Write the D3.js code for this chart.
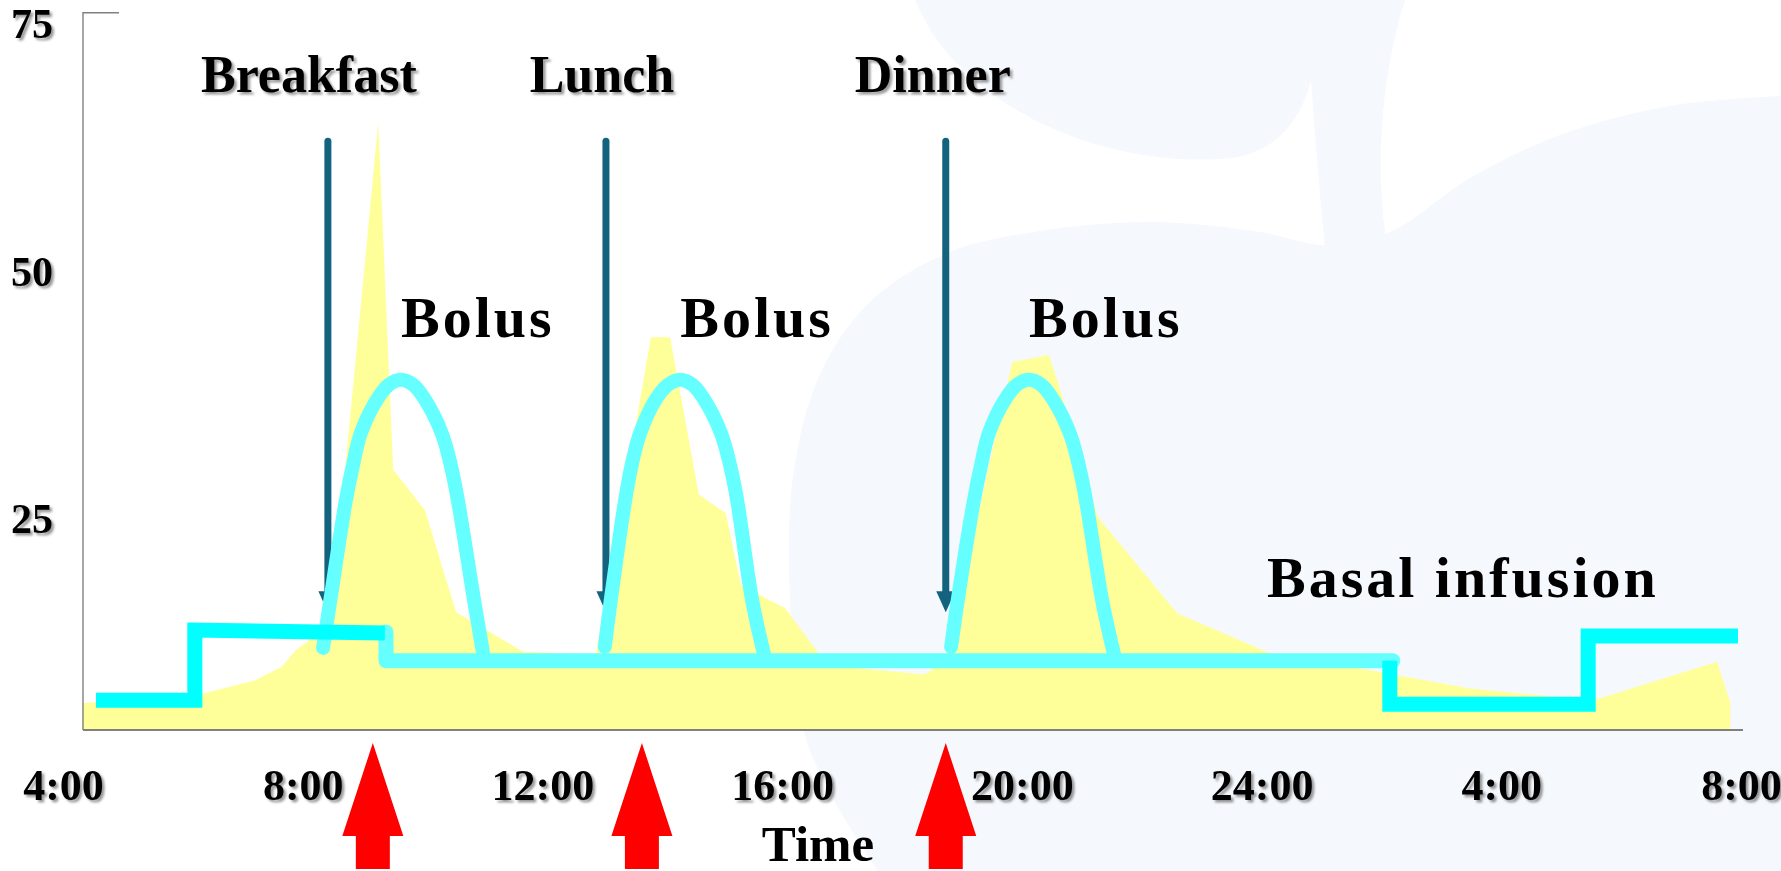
<!DOCTYPE html>
<html>
<head>
<meta charset="utf-8">
<script src="https://cdn.jsdelivr.net/npm/d3@7"></script>
<style>
  html, body { margin: 0; padding: 0; background: #ffffff; }
  svg { display: block; }
  text { font-family: "Liberation Serif", "Times New Roman", serif; font-weight: bold; fill: #000; }
</style>
</head>
<body>
<svg id="chart" width="1781" height="871"></svg>
<script>
// ---------------- data ----------------
// time axis (hours from midnight of day 1)
const timeTicks = [4, 8, 12, 16, 20, 24, 28, 32];
const timeTickLabels = ["4:00", "8:00", "12:00", "16:00", "20:00", "24:00", "4:00", "8:00"];
const levelTicks = [25, 50, 75];

// glucose appearance after meals (yellow area): [hour, level]
const absorption = [
  [4.32, 5.2], [6.22, 6.0], [7.20, 7.5], [7.65, 8.9], [7.89, 10.6], [8.46, 13.1],
  [9.26, 63.9], [9.51, 28.8], [10.04, 24.7], [10.56, 14.4], [11.68, 10.4],
  [12.89, 10.1], [13.81, 42.2], [14.13, 42.2], [14.61, 26.3], [15.06, 24.4],
  [15.31, 17.2], [15.70, 15.9], [16.05, 14.8], [16.60, 10.3], [16.80, 9.0],
  [18.38, 8.1], [18.55, 8.8], [18.72, 9.6], [19.84, 39.7], [20.45, 40.4],
  [20.60, 37.7], [21.27, 24.0], [22.59, 14.3], [24.12, 10.3], [25.58, 8.8],
  [27.48, 6.7], [29.00, 5.8], [29.65, 5.7], [31.60, 9.4], [31.82, 5.3]
];

// basal insulin infusion rate, stepwise
const basalMorning = [[4.55, 5.5], [6.20, 5.5], [6.20, 12.6], [9.37, 12.3]];
const basalDay     = [[9.39, 12.4], [9.39, 9.5], [26.19, 9.5]];
const basalNight   = [[26.14, 9.5], [26.14, 5.1], [29.45, 5.1], [29.45, 12.0], [31.95, 12.0]];

// mealtime insulin boluses
const bolusBreakfast = [[8.34, 10.8], [8.46, 15.6], [8.72, 25.7], [8.84, 29.3], [8.97, 32.5], [9.24, 35.9],
                        [9.44, 37.4], [9.64, 37.9], [9.84, 37.4], [10.04, 35.9], [10.32, 32.5],
                        [10.47, 29.3], [10.59, 25.7], [10.86, 15.6], [11.02, 9.9]];
const bolusLunch     = [[13.04, 10.9], [13.14, 15.6], [13.38, 25.7], [13.49, 29.3], [13.63, 32.5], [13.89, 35.9],
                        [14.10, 37.4], [14.30, 37.9], [14.50, 37.4], [14.70, 35.9], [14.98, 32.5],
                        [15.13, 29.3], [15.25, 25.7], [15.50, 15.6], [15.70, 10.1]];
const bolusDinner    = [[18.82, 10.9], [18.93, 15.6], [19.20, 25.7], [19.32, 29.3], [19.45, 32.5], [19.72, 35.9],
                        [19.92, 37.4], [20.12, 37.9], [20.32, 37.4], [20.52, 35.9], [20.80, 32.5],
                        [20.95, 29.3], [21.07, 25.7], [21.34, 15.6], [21.54, 10.1]];

const meals = ["Breakfast", "Lunch", "Dinner"];
const mealTimes = [8.42, 13.06, 18.73];
const mealArrowTop = 62;
const mealArrowTip = 14.4;
const injectionTimes = [9.17, 13.66, 18.73];

// ---------------- layout ----------------
const plotLeft = 83, plotRight = 1743;
const baseLevel = 2.5;
const mealLabelShift = [-19, -4, -13];   // horizontal nudge of each meal caption

const x = d3.scaleLinear().domain([4, 32]).range([63, 1741]);
const y = d3.scaleLinear().domain([baseLevel, 75]).range([730, 12.7]);

const svg = d3.select("#chart");
const defs = svg.append("defs");
const shadow = defs.append("filter").attr("id", "txtShadow")
  .attr("x", "-20%").attr("y", "-20%").attr("width", "150%").attr("height", "170%");
shadow.append("feDropShadow").attr("dx", 2.5).attr("dy", 2.5)
  .attr("stdDeviation", 1.3).attr("flood-color", "#000").attr("flood-opacity", 0.4);

// faint apple watermark behind the chart
const wm = svg.append("g").attr("fill", "#F5F8FC");
const bodyPts = [[878, 871], [808, 745], [790, 600], [794, 470], [822, 370], [872, 300], [950, 252],
                 [1040, 231], [1150, 222], [1260, 232], [1325, 245], [1390, 232], [1470, 178],
                 [1560, 135], [1670, 106], [1781, 96]];
wm.append("path").attr("d", d3.line().curve(d3.curveCatmullRom)(bodyPts) + "L1781,871Z");
wm.append("path").attr("d", "M915,0 C960,110 1110,170 1230,158 C1295,150 1322,90 1318,0 Z");
wm.append("path").attr("d", "M1305,0 C1312,90 1318,180 1325,245 L1387,245 C1375,170 1380,80 1405,0 Z");

// yellow absorption area
svg.append("path")
  .datum(absorption)
  .attr("fill", "#FFFF99")
  .attr("d", d3.area().x(d => x(d[0])).y0(y(baseLevel)).y1(d => y(d[1])));

// axes frame
svg.append("path")
  .attr("d", `M${plotLeft + 36},${y(75)}H${plotLeft}V${y(baseLevel)}`)
  .attr("fill", "none").attr("stroke", "#808080").attr("stroke-width", 1.4);
svg.append("line")
  .attr("x1", plotLeft).attr("x2", plotRight).attr("y1", y(baseLevel)).attr("y2", y(baseLevel))
  .attr("stroke", "#808080").attr("stroke-width", 2);

// y axis labels
const yAxis = svg.append("g").attr("transform", `translate(${plotLeft},0)`)
  .call(d3.axisLeft(y).tickValues(levelTicks).tickSize(0));
yAxis.select(".domain").remove();
yAxis.selectAll("text")
  .attr("x", -30).attr("dy", 25)
  .style("font-size", "42px")
  .attr("font-family", null)
  .attr("filter", "url(#txtShadow)");

// x axis labels
const xAxis = svg.append("g").attr("transform", `translate(0,${y(baseLevel)})`)
  .call(d3.axisBottom(x).tickValues(timeTicks).tickFormat((d, i) => timeTickLabels[i]).tickSize(0));
xAxis.select(".domain").remove();
xAxis.selectAll("text")
  .attr("y", 70).attr("dy", 0)
  .style("font-size", "44px")
  .attr("font-family", null)
  .attr("filter", "url(#txtShadow)");

svg.append("text").attr("x", 818).attr("y", 861).attr("text-anchor", "middle")
  .style("font-size", "51px").text("Time");

// meal arrows
const teal = "#13637F";
const mealG = svg.append("g");
mealTimes.forEach((t, i) => {
  const cx = x(t), tip = y(mealArrowTip);
  mealG.append("line")
    .attr("x1", cx).attr("x2", cx).attr("y1", y(mealArrowTop)).attr("y2", tip - 18)
    .attr("stroke", teal).attr("stroke-width", 7).attr("stroke-linecap", "round");
  mealG.append("path")
    .attr("d", `M${cx - 9.5},${tip - 21}L${cx + 9.5},${tip - 21}L${cx},${tip}Z`)
    .attr("fill", teal);
  svg.append("text")
    .attr("x", cx + mealLabelShift[i]).attr("y", 92).attr("text-anchor", "middle")
    .style("font-size", "52px")
    .attr("filter", "url(#txtShadow)")
    .text(meals[i]);
});

const line = d3.line().x(d => x(d[0])).y(d => y(d[1]));
const smooth = d3.line().x(d => x(d[0])).y(d => y(d[1])).curve(d3.curveCatmullRom.alpha(0.5));

// boluses and daytime basal (light cyan)
[bolusBreakfast, bolusLunch, bolusDinner].forEach(b => {
  svg.append("path").datum(b)
    .attr("d", smooth)
    .attr("fill", "none").attr("stroke", "#66FFFF").attr("stroke-width", 14)
    .attr("stroke-linecap", "round");
  const peak = b.reduce((a, c) => c[1] > a[1] ? c : a);
  svg.append("text")
    .attr("x", x(peak[0])).attr("y", y(peak[1]) - 43)
    .style("font-size", "58px").style("letter-spacing", "3px")
    .text("Bolus");
});

svg.append("path").datum(basalDay)
  .attr("d", line)
  .attr("fill", "none").attr("stroke", "#66FFFF").attr("stroke-width", 15)
  .attr("stroke-linecap", "round").attr("stroke-linejoin", "round");

// night / early morning basal (bright cyan)
[basalMorning, basalNight].forEach(b => {
  svg.append("path").datum(b)
    .attr("d", line)
    .attr("fill", "none").attr("stroke", "#00FFFF").attr("stroke-width", 15)
    .attr("stroke-linecap", "butt").attr("stroke-linejoin", "miter");
});

svg.append("text").attr("x", 1267).attr("y", 597)
  .style("font-size", "58px").style("letter-spacing", "3px")
  .text("Basal infusion");

// insulin injection arrows under the time axis
const redG = svg.append("g").attr("fill", "#FF0000");
injectionTimes.forEach(t => {
  const cx = x(t);
  redG.append("path").attr("d",
    `M${cx},743L${cx + 30.5},836L${cx + 17},836L${cx + 17},869L${cx - 17},869L${cx - 17},836L${cx - 30.5},836Z`);
});
</script>
</body>
</html>
